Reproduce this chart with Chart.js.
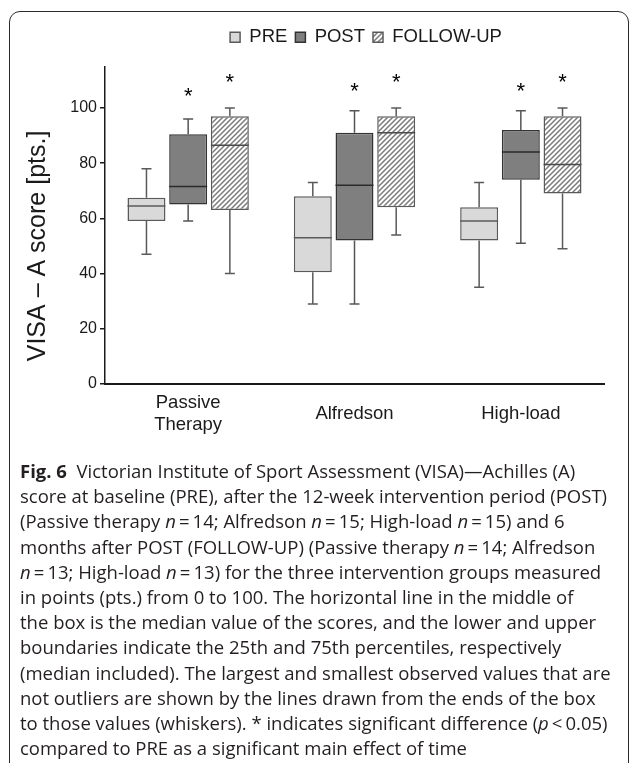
<!DOCTYPE html>
<html>
<head>
<meta charset="utf-8">
<script src="https://cdn.jsdelivr.net/npm/chart.js@4.4.1/dist/chart.umd.min.js"></script>
<style>
  html, body { margin: 0; padding: 0; background: #fff; }
  body { width: 629px; height: 763px; position: relative; overflow: hidden; }
  #wrap { position: absolute; left: 0; top: 0; width: 629px; height: 450px; }
  #frame { position: absolute; left: 9px; top: 11px; width: 620px; height: 820px;
           border: 1.5px solid #2b2b2b; border-radius: 11px; box-sizing: border-box; pointer-events: none; }
  #caption { position: absolute; left: 20px; top: 458px; font-family: "Open Sans", sans-serif; font-size: 18.5px;
             line-height: 25.2px; color: #231f20; white-space: nowrap; }
  #caption b { font-weight: 700; }
</style>
</head>
<body>
<div id="wrap"><canvas id="chart"></canvas></div>
<div id="frame"></div>
<div id="caption">
  <b>Fig. 6</b>&nbsp; Victorian Institute of Sport Assessment (VISA)—Achilles (A)<br>
  score at baseline (PRE), after the 12-week intervention period (POST)<br>
  (Passive therapy <i>n</i>&thinsp;=&thinsp;14; Alfredson <i>n</i>&thinsp;=&thinsp;15; High-load <i>n</i>&thinsp;=&thinsp;15) and 6<br>
  months after POST (FOLLOW-UP) (Passive therapy <i>n</i>&thinsp;=&thinsp;14; Alfredson<br>
  <i>n</i>&thinsp;=&thinsp;13; High-load <i>n</i>&thinsp;=&thinsp;13) for the three intervention groups measured<br>
  in points (pts.) from 0 to 100. The horizontal line in the middle of<br>
  the box is the median value of the scores, and the lower and upper<br>
  boundaries indicate the 25th and 75th percentiles, respectively<br>
  (median included). The largest and smallest observed values that are<br>
  not outliers are shown by the lines drawn from the ends of the box<br>
  to those values (whiskers). * indicates significant difference (<i>p</i>&thinsp;&lt;&thinsp;0.05)<br>
  compared to PRE as a significant main effect of time
</div>
<script>
// groups on the x axis
const categories = [["Passive", "Therapy"], "Alfredson", "High-load"];
const seriesNames = ["PRE", "POST", "FOLLOW-UP"];
const yTicks = [0, 20, 40, 60, 80, 100];
const yTitle = "VISA – A score [pts.]";

// box plot values (pts.)
const preMin = [47, 29, 35];
const preQ1 = [59, 40.5, 52];
const preMed = [64.5, 53, 59];
const preQ3 = [67.5, 68, 64];
const preMax = [78, 73, 73];

const postMin = [59, 29, 51];
const postQ1 = [65, 52, 74];
const postMed = [71.5, 72, 84];
const postQ3 = [90.5, 91, 92];
const postMax = [96, 99, 99];

const fuMin = [40, 54, 49];
const fuQ1 = [63, 64, 69];
const fuMed = [86.5, 91, 79.5];
const fuQ3 = [97, 97, 97];
const fuMax = [100, 100, 100];

// height of the "*" significance marks
const postStar = [105, 107, 107];
const fuStar = [110, 110, 110];

const FONT = "'Liberation Sans', Arial, sans-serif";
const INK = "#1a1a1a";

function hatchPattern() {
  const c = document.createElement("canvas");
  c.width = 5; c.height = 5;
  const g = c.getContext("2d");
  g.fillStyle = "#fff";
  g.fillRect(0, 0, 5, 5);
  g.strokeStyle = "#7a7a7a";
  g.lineWidth = 1.5;
  g.beginPath();
  g.moveTo(0, 5); g.lineTo(5, 0);
  g.moveTo(-1, 1); g.lineTo(1, -1);
  g.moveTo(4, 6); g.lineTo(6, 4);
  g.stroke();
  return g.createPattern(c, "repeat");
}

const boxes = [
  { min: preMin, q1: preQ1, med: preMed, q3: preQ3, max: preMax, stars: null, line: "#5a5a5a", medLine: "#5a5a5a" },
  { min: postMin, q1: postQ1, med: postMed, q3: postQ3, max: postMax, stars: postStar, line: "#555", medLine: "#2a2a2a" },
  { min: fuMin, q1: fuQ1, med: fuMed, q3: fuQ3, max: fuMax, stars: fuStar, line: "#5a5a5a", medLine: "#4a4a4a" },
];

// whiskers, medians and stars on top of the floating bars
const boxPlotExtras = {
  id: "boxPlotExtras",
  afterDatasetsDraw(chart) {
    const ctx = chart.ctx;
    const y = chart.scales.y;
    boxes.forEach((b, d) => {
      const meta = chart.getDatasetMeta(d);
      meta.data.forEach((bar, i) => {
        const x = bar.x, half = bar.width / 2, cap = 5;
        ctx.save();
        ctx.strokeStyle = b.line;
        ctx.lineWidth = 1.5;
        ctx.beginPath();
        ctx.moveTo(x, y.getPixelForValue(b.q3[i]));
        ctx.lineTo(x, y.getPixelForValue(b.max[i]));
        ctx.moveTo(x - cap, y.getPixelForValue(b.max[i]));
        ctx.lineTo(x + cap, y.getPixelForValue(b.max[i]));
        ctx.moveTo(x, y.getPixelForValue(b.q1[i]));
        ctx.lineTo(x, y.getPixelForValue(b.min[i]));
        ctx.moveTo(x - cap, y.getPixelForValue(b.min[i]));
        ctx.lineTo(x + cap, y.getPixelForValue(b.min[i]));
        ctx.stroke();
        ctx.strokeStyle = b.medLine;
        ctx.beginPath();
        ctx.moveTo(x - half, y.getPixelForValue(b.med[i]));
        ctx.lineTo(x + half, y.getPixelForValue(b.med[i]));
        ctx.stroke();
        if (b.stars) {
          ctx.fillStyle = "#000";
          ctx.font = "22px " + FONT;
          ctx.textAlign = "center";
          ctx.textBaseline = "alphabetic";
          ctx.fillText("*", x, y.getPixelForValue(b.stars[i]) + 9);
        }
        ctx.restore();
      });
    });
  }
};

// y title centred on the 0..100 range rather than on the whole axis
const yAxisTitle = {
  id: "yAxisTitle",
  afterDraw(chart) {
    const ctx = chart.ctx;
    const y = chart.scales.y;
    const mid = (y.getPixelForValue(yTicks[0]) + y.getPixelForValue(yTicks[yTicks.length - 1])) / 2;
    ctx.save();
    ctx.translate(38, mid);
    ctx.rotate(-Math.PI / 2);
    ctx.fillStyle = INK;
    ctx.font = "25px " + FONT;
    ctx.textAlign = "center";
    ctx.textBaseline = "middle";
    ctx.fillText(yTitle, 0, 0);
    ctx.restore();
  }
};

// a bit more room between legend and plot, and the legend sits right of centre
const legendTweak = {
  id: "legendTweak",
  beforeInit(chart) {
    const fit = chart.legend.fit;
    chart.legend.fit = function () {
      fit.bind(chart.legend)();
      this.height += 10;
    };
  },
  afterLayout(chart) {
    chart.legend.left += 64;
    chart.legend.right += 64;
  }
};

const hatch = hatchPattern();

new Chart(document.getElementById("chart"), {
  type: "bar",
  data: {
    labels: categories,
    datasets: [
      { label: seriesNames[0], data: preQ1.map((v, i) => [v, preQ3[i]]), backgroundColor: "#d9d9d9", borderColor: "#5a5a5a" },
      { label: seriesNames[1], data: postQ1.map((v, i) => [v, postQ3[i]]), backgroundColor: "#7f7f7f", borderColor: "#333" },
      { label: seriesNames[2], data: fuQ1.map((v, i) => [v, fuQ3[i]]), backgroundColor: hatch, borderColor: "#5a5a5a" },
    ].map(ds => ({ ...ds, borderWidth: 1.5, borderSkipped: false, categoryPercentage: 0.752, barPercentage: 0.91 })),
  },
  options: {
    responsive: true,
    maintainAspectRatio: false,
    animation: false,
    layout: { padding: { left: 0, right: 25, top: 20, bottom: 0 } },
    plugins: {
      tooltip: { enabled: false },
      legend: {
        position: "top",
        labels: { boxWidth: 10, boxHeight: 10, padding: 8, color: INK, font: { size: 18.5, family: FONT } },
      },
    },
    scales: {
      x: {
        grid: { display: false },
        border: { color: INK, width: 2 },
        ticks: { color: INK, font: { size: 18.5, family: FONT, lineHeight: 1.2 }, padding: 11, maxRotation: 0, crossAlign: "center" },
        afterFit: s => { s.height = 66; },
      },
      y: {
        min: 0,
        max: 115,
        afterBuildTicks: s => { s.ticks = yTicks.map(v => ({ value: v })); },
        grid: { drawOnChartArea: false, drawTicks: true, tickLength: 5, color: INK, lineWidth: 1.5 },
        border: { color: INK, width: 1.5 },
        ticks: { color: INK, font: { size: 16, family: FONT }, padding: 3 },
        afterFit: s => { s.width = 105; },
      },
    },
  },
  plugins: [boxPlotExtras, yAxisTitle, legendTweak],
});
</script>
</body>
</html>
